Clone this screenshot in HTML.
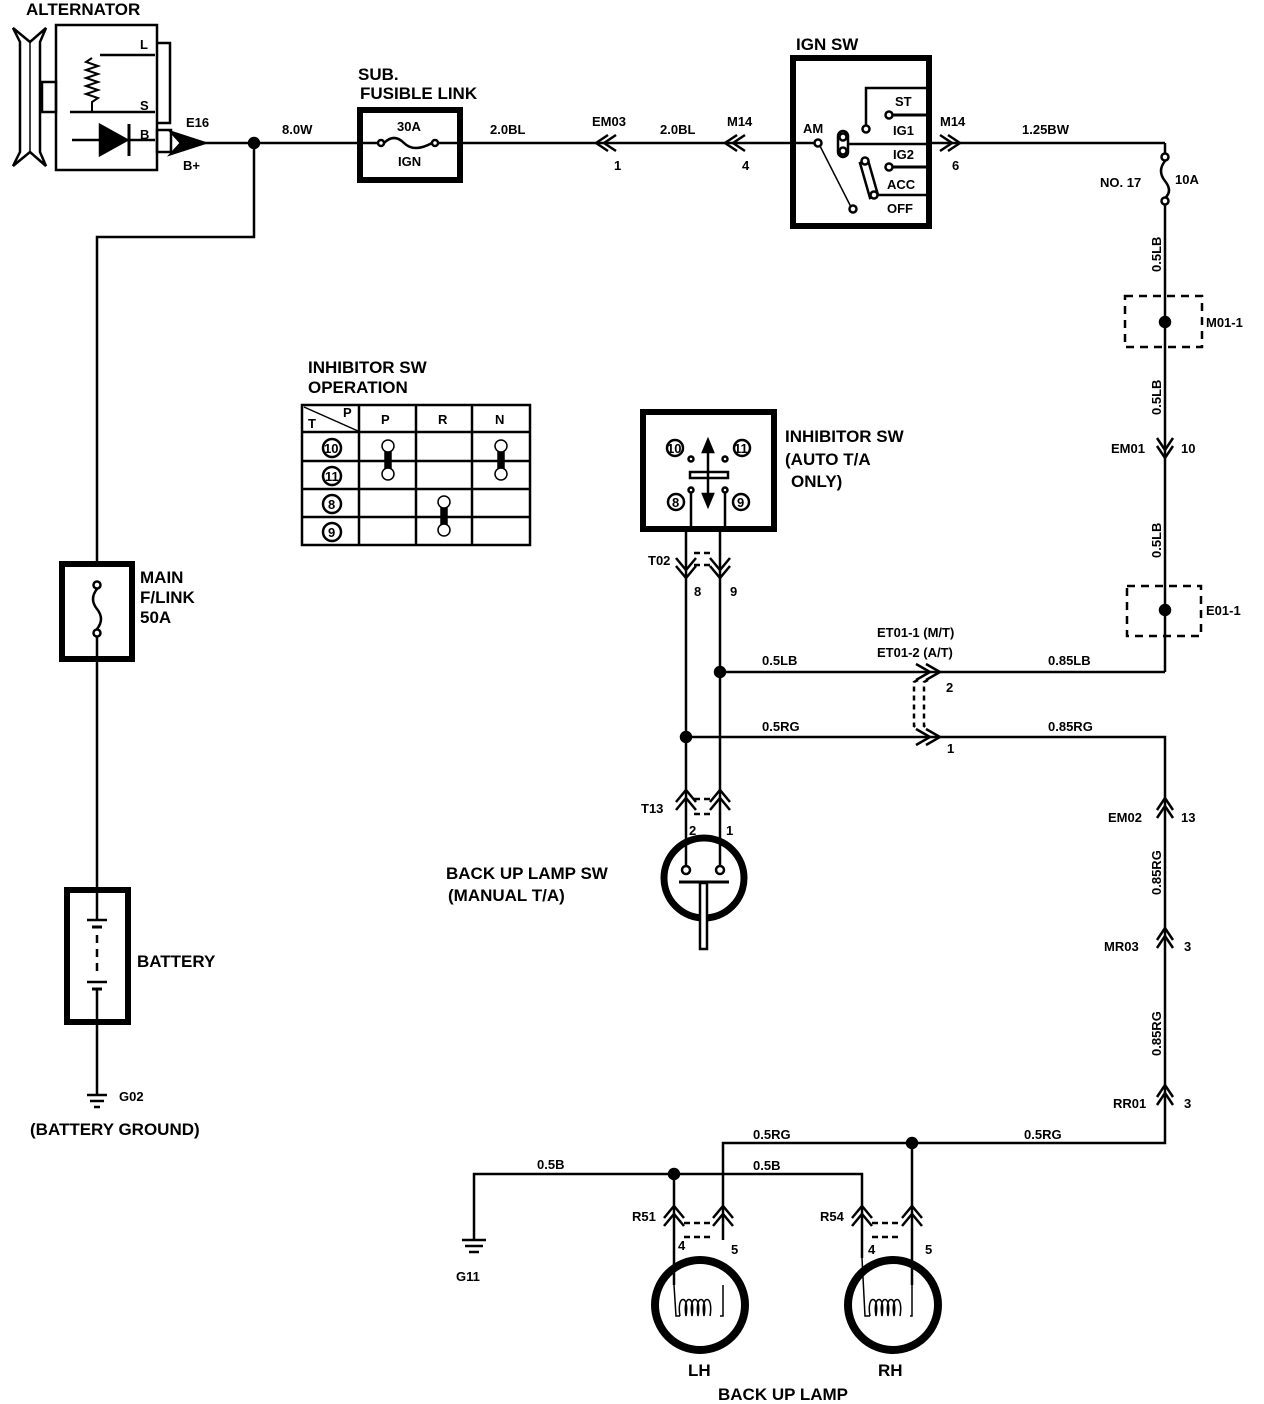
<!DOCTYPE html>
<html><head><meta charset="utf-8"><style>
html,body{margin:0;padding:0;background:#fff;}
svg{display:block;}
text{font-family:"Liberation Sans",Arial,sans-serif;font-weight:bold;fill:#000;}
.t{font-size:13px;}
.b{font-size:17px;}
</style></head><body>
<svg width="1264" height="1404" viewBox="0 0 1264 1404" xmlns="http://www.w3.org/2000/svg">
<g stroke="#000" fill="none" stroke-width="2.5">
<!-- Alternator -->
<polygon points="13,28 30,42 46,28 40,42 40,152 46,166 30,152 13,166 20,152 20,42" fill="#fff"/>
<line x1="30" y1="42" x2="30" y2="152" stroke-width="1.5"/>
<rect x="42" y="82" width="14" height="30"/>
<rect x="56" y="25" width="101" height="145"/>
<polyline points="157,43 170,43 170,123 157,123"/>
<polyline points="100,55 155,55"/>
<polyline points="70,112 155,112"/>
<path d="M92,58 l-6,4 l12,4 l-12,4 l12,4 l-12,4 l12,4 l-12,4 l12,4 l-12,4 l12,4 l-6,4 L92,112" stroke-width="2"/>
<line x1="72" y1="140" x2="155" y2="140"/>
<polygon points="100,125 100,155 127,140" fill="#000"/>
<line x1="129" y1="124" x2="129" y2="156" stroke-width="3"/>
<rect x="157" y="130" width="14" height="22"/>
<polygon points="171,132 205,143 171,154 181,143" fill="#000"/>
<!-- main wire -->
<line x1="200" y1="143" x2="360" y2="143"/>
<circle cx="254" cy="143" r="5" fill="#000"/>
<polyline points="254,143 254,237 97,237 97,562"/>
<!-- sub fusible link -->
<rect x="360" y="110" width="100" height="70" stroke-width="6"/>
<line x1="363" y1="143" x2="378" y2="143"/>
<circle cx="381" cy="143" r="3" fill="#fff"/>
<circle cx="435" cy="143" r="3" fill="#fff"/>
<path d="M384,143 q10,-10 20,0 q10,10 28,0"/>
<line x1="438" y1="143" x2="458" y2="143"/>
<line x1="460" y1="143" x2="793" y2="143"/>
<polyline points="608,135 596,143 608,151"/><polyline points="616,135 604,143 616,151"/>
<polyline points="737,135 725,143 737,151"/><polyline points="745,135 733,143 745,151"/>
<!-- IGN SW -->
<rect x="793" y="58" width="136" height="168" stroke-width="6"/>
<line x1="796" y1="143" x2="815" y2="143" />
<circle cx="818" cy="143" r="3.5" fill="#fff"/>
<line x1="820" y1="146" x2="851" y2="207" stroke-width="1.5"/>
<circle cx="853" cy="209" r="3.5" fill="#fff"/>
<rect x="838" y="131" width="10" height="26" rx="5" fill="#fff"/>
<circle cx="843" cy="137" r="3.5"/><circle cx="843" cy="151" r="3.5"/>
<line x1="848" y1="144" x2="929" y2="144"/>
<polyline points="866,126 866,88 927,88"/>
<circle cx="866" cy="129" r="3.5" fill="#fff"/>
<circle cx="889" cy="115" r="3.5" fill="#fff"/>
<line x1="893" y1="115" x2="927" y2="115" stroke-width="3"/>
<circle cx="889" cy="167" r="3.5" fill="#fff"/>
<line x1="893" y1="167" x2="927" y2="167" stroke-width="3"/>
<polygon points="860,163 868,160 878,195 870,198" fill="#fff"/>
<circle cx="865" cy="161" r="3.5" fill="#fff"/>
<circle cx="874" cy="195" r="3.5" fill="#fff"/>
<line x1="878" y1="195" x2="927" y2="195"/>
<line x1="929" y1="143" x2="1165" y2="143"/>
<polyline points="940,135 952,143 940,151"/><polyline points="948,135 960,143 948,151"/>
<!-- right vertical -->
<polyline points="1165,143 1165,153"/>
<circle cx="1165" cy="157" r="3.5" fill="#fff"/>
<path d="M1165,161 q-8,10 0,20 q8,10 0,17"/>
<circle cx="1165" cy="201" r="3.5" fill="#fff"/>
<line x1="1165" y1="205" x2="1165" y2="672"/>
<rect x="1125" y="296" width="77" height="51" stroke-dasharray="8,6"/>
<circle cx="1165" cy="322" r="5" fill="#000"/>
<polyline points="1157,438 1165,450 1173,438"/><polyline points="1157,446 1165,458 1173,446"/>
<rect x="1127" y="586" width="74" height="50" stroke-dasharray="8,6"/>
<circle cx="1165" cy="610" r="5" fill="#000"/>
<polyline points="1165,672 720,672"/>
<circle cx="720" cy="672" r="5" fill="#000"/>
<polyline points="916,664 930,672 916,680"/><polyline points="926,664 940,672 926,680"/>
<polyline points="916,729 930,737 916,745"/><polyline points="926,729 940,737 926,745"/>
<polyline points="918,680 914,682 914,726 918,728" stroke-dasharray="5,4"/>
<polyline points="928,680 924,682 924,726 928,728" stroke-dasharray="5,4"/>
<polyline points="686,737 1165,737 1165,1143 723,1143 723,1240"/>
<circle cx="686" cy="737" r="5" fill="#000"/>
<circle cx="912" cy="1143" r="5" fill="#000"/>
<polyline points="1157,810 1165,798 1173,810"/><polyline points="1157,818 1165,806 1173,818"/>
<polyline points="1157,940 1165,928 1173,940"/><polyline points="1157,948 1165,936 1173,948"/>
<polyline points="1157,1097 1165,1085 1173,1097"/><polyline points="1157,1105 1165,1093 1173,1105"/>
<!-- inhibitor sw -->
<rect x="643" y="412" width="131" height="117" stroke-width="6"/>
<circle cx="675" cy="448" r="8"/><circle cx="742" cy="448" r="8"/>
<circle cx="676" cy="502" r="8"/><circle cx="741" cy="502" r="8"/>
<circle cx="691" cy="459" r="2.5"/><circle cx="725" cy="459" r="2.5"/>
<circle cx="691" cy="490" r="2.5"/><circle cx="725" cy="490" r="2.5"/>
<rect x="690" y="472" width="38" height="6"/>
<line x1="708" y1="448" x2="708" y2="500"/>
<polygon points="703,452 708,440 713,452" fill="#000"/>
<polygon points="703,494 708,506 713,494" fill="#000"/>
<line x1="691" y1="493" x2="691" y2="531"/><line x1="725" y1="493" x2="725" y2="531"/>
<line x1="686" y1="531" x2="686" y2="845"/>
<line x1="720" y1="531" x2="720" y2="845"/>
<polyline points="676,558 686,570 696,558"/><polyline points="676,566 686,578 696,566"/>
<polyline points="710,558 720,570 730,558"/><polyline points="710,566 720,578 730,566"/>
<line x1="694" y1="553" x2="712" y2="553" stroke-dasharray="6,4"/>
<line x1="694" y1="565" x2="712" y2="565" stroke-dasharray="6,4"/>
<!-- T13 -->
<polyline points="676,802 686,790 696,802"/><polyline points="676,810 686,798 696,810"/>
<polyline points="710,802 720,790 730,802"/><polyline points="710,810 720,798 730,810"/>
<line x1="694" y1="799" x2="712" y2="799" stroke-dasharray="6,4"/>
<line x1="694" y1="814" x2="712" y2="814" stroke-dasharray="6,4"/>
<!-- back up lamp sw -->
<circle cx="704" cy="878" r="40" stroke-width="7"/>
<line x1="686" y1="845" x2="686" y2="867"/><line x1="720" y1="845" x2="720" y2="867"/>
<circle cx="686" cy="870" r="4" fill="#fff"/><circle cx="720" cy="870" r="4" fill="#fff"/>
<line x1="679" y1="882" x2="729" y2="882" stroke-width="3"/>
<rect x="700" y="883" width="7" height="66" fill="#fff"/>
<!-- main f/link -->
<rect x="62" y="564" width="70" height="95" stroke-width="6"/>
<circle cx="97" cy="585" r="3.5" fill="#fff"/>
<path d="M97,589 q-8,10 0,20 q8,10 0,20"/>
<circle cx="97" cy="633" r="3.5" fill="#fff"/>
<line x1="97" y1="637" x2="97" y2="888"/>
<rect x="67" y="890" width="61" height="132" stroke-width="6"/>
<line x1="97" y1="893" x2="97" y2="920"/>
<line x1="87" y1="920" x2="107" y2="920"/><line x1="92" y1="927" x2="102" y2="927" stroke-width="3"/>
<line x1="97" y1="935" x2="97" y2="975" stroke-dasharray="8,6"/>
<line x1="87" y1="982" x2="107" y2="982"/><line x1="92" y1="989" x2="102" y2="989" stroke-width="3"/>
<line x1="97" y1="989" x2="97" y2="1095"/>
<line x1="87" y1="1095" x2="107" y2="1095"/><line x1="90" y1="1101" x2="104" y2="1101"/><line x1="94" y1="1107" x2="100" y2="1107"/>
<!-- bottom -->
<polyline points="474,1240 474,1174 862,1174 862,1258"/>
<circle cx="674" cy="1174" r="5" fill="#000"/>
<line x1="674" y1="1174" x2="674" y2="1285"/>
<line x1="912" y1="1143" x2="912" y2="1285"/>
<line x1="462" y1="1240" x2="486" y2="1240"/><line x1="465" y1="1246" x2="483" y2="1246"/><line x1="469" y1="1252" x2="479" y2="1252"/>
<g>
<polyline points="664,1218 674,1206 684,1218"/><polyline points="664,1226 674,1214 684,1226"/>
<polyline points="713,1218 723,1206 733,1218"/><polyline points="713,1226 723,1214 733,1226"/>
<line x1="684" y1="1223" x2="713" y2="1223" stroke-dasharray="6,4"/>
<line x1="684" y1="1237" x2="713" y2="1237" stroke-dasharray="6,4"/>
<polyline points="852,1218 862,1206 872,1218"/><polyline points="852,1226 862,1214 872,1226"/>
<polyline points="902,1218 912,1206 922,1218"/><polyline points="902,1226 912,1214 922,1226"/>
<line x1="872" y1="1223" x2="902" y2="1223" stroke-dasharray="6,4"/>
<line x1="872" y1="1237" x2="902" y2="1237" stroke-dasharray="6,4"/>
</g>
<circle cx="700" cy="1305" r="45" stroke-width="8"/>
<circle cx="893" cy="1305" r="45" stroke-width="8"/>
<g stroke-width="1.5">
<polyline points="674,1285 676,1316 680,1316"/><polyline points="723,1285 723,1316 720,1316"/>
<path d="M680,1316 c-4,-22 10,-22 6,0 c-4,-22 10,-22 6,0 c-4,-22 10,-22 6,0 c-4,-22 10,-22 6,0 c-4,-22 10,-22 6,0"/>
<polyline points="862,1258 865,1316 870,1316"/><polyline points="912,1285 912,1316 910,1316"/>
<path d="M870,1316 c-4,-22 10,-22 6,0 c-4,-22 10,-22 6,0 c-4,-22 10,-22 6,0 c-4,-22 10,-22 6,0 c-4,-22 10,-22 6,0"/>
</g>
<!-- table -->
<rect x="302" y="405" width="228" height="140"/>
<line x1="359" y1="405" x2="359" y2="545"/><line x1="416" y1="405" x2="416" y2="545"/><line x1="472" y1="405" x2="472" y2="545"/>
<line x1="302" y1="432" x2="530" y2="432"/><line x1="302" y1="461" x2="530" y2="461"/><line x1="302" y1="489" x2="530" y2="489"/><line x1="302" y1="517" x2="530" y2="517"/>
<line x1="304" y1="407" x2="358" y2="431" stroke-width="1.5"/>
<circle cx="332" cy="448" r="9"/><circle cx="332" cy="476" r="9"/><circle cx="332" cy="504" r="9"/><circle cx="332" cy="532" r="9"/>
<g stroke-width="1.5" fill="#fff">
<rect x="385" y="450" width="6" height="20" fill="#000"/>
<circle cx="388" cy="446" r="6"/><circle cx="388" cy="474" r="6"/>
<rect x="498" y="450" width="6" height="20" fill="#000"/>
<circle cx="501" cy="446" r="6"/><circle cx="501" cy="474" r="6"/>
<rect x="441" y="506" width="6" height="20" fill="#000"/>
<circle cx="444" cy="502" r="6"/><circle cx="444" cy="530" r="6"/>
</g>
</g>
<!-- labels -->
<text x="26" y="15" class="b">ALTERNATOR</text>
<text x="140" y="49" class="t" font-size="12">L</text>
<text x="140" y="110" class="t" font-size="12">S</text>
<text x="140" y="139" class="t" font-size="12">B</text>
<text x="186" y="127" class="t">E16</text>
<text x="183" y="170" class="t">B+</text>
<text x="282" y="134" class="t">8.0W</text>
<text x="358" y="80" class="b">SUB.</text>
<text x="360" y="99" class="b">FUSIBLE LINK</text>
<text x="397" y="131" class="t" font-size="12">30A</text>
<text x="398" y="166" class="t" font-size="12">IGN</text>
<text x="490" y="134" class="t">2.0BL</text>
<text x="592" y="126" class="t">EM03</text>
<text x="614" y="170" class="t">1</text>
<text x="660" y="134" class="t">2.0BL</text>
<text x="727" y="126" class="t">M14</text>
<text x="742" y="170" class="t">4</text>
<text x="796" y="50" class="b">IGN SW</text>
<text x="803" y="133" class="t">AM</text>
<text x="895" y="106" class="t">ST</text>
<text x="893" y="135" class="t">IG1</text>
<text x="893" y="159" class="t">IG2</text>
<text x="887" y="189" class="t">ACC</text>
<text x="887" y="213" class="t">OFF</text>
<text x="940" y="126" class="t">M14</text>
<text x="952" y="170" class="t">6</text>
<text x="1022" y="134" class="t">1.25BW</text>
<text x="1100" y="187" class="t">NO. 17</text>
<text x="1175" y="184" class="t">10A</text>
<text x="0" y="0" class="t" transform="translate(1161,272) rotate(-90)">0.5LB</text>
<text x="1206" y="327" class="t">M01-1</text>
<text x="0" y="0" class="t" transform="translate(1161,415) rotate(-90)">0.5LB</text>
<text x="1111" y="453" class="t">EM01</text>
<text x="1181" y="453" class="t">10</text>
<text x="0" y="0" class="t" transform="translate(1161,558) rotate(-90)">0.5LB</text>
<text x="1206" y="615" class="t">E01-1</text>
<text x="877" y="637" class="t">ET01-1 (M/T)</text>
<text x="877" y="657" class="t">ET01-2 (A/T)</text>
<text x="1048" y="665" class="t">0.85LB</text>
<text x="946" y="692" class="t">2</text>
<text x="762" y="665" class="t">0.5LB</text>
<text x="762" y="731" class="t">0.5RG</text>
<text x="1048" y="731" class="t">0.85RG</text>
<text x="947" y="753" class="t">1</text>
<text x="1108" y="822" class="t">EM02</text>
<text x="1181" y="822" class="t">13</text>
<text x="0" y="0" class="t" transform="translate(1161,895) rotate(-90)">0.85RG</text>
<text x="1104" y="951" class="t">MR03</text>
<text x="1184" y="951" class="t">3</text>
<text x="0" y="0" class="t" transform="translate(1161,1056) rotate(-90)">0.85RG</text>
<text x="1113" y="1108" class="t">RR01</text>
<text x="1184" y="1108" class="t">3</text>
<text x="1024" y="1139" class="t">0.5RG</text>
<text x="753" y="1139" class="t">0.5RG</text>
<text x="753" y="1170" class="t">0.5B</text>
<text x="537" y="1169" class="t">0.5B</text>
<text x="456" y="1281" class="t">G11</text>
<text x="632" y="1221" class="t">R51</text>
<text x="678" y="1250" class="t">4</text>
<text x="731" y="1254" class="t">5</text>
<text x="820" y="1221" class="t">R54</text>
<text x="868" y="1254" class="t">4</text>
<text x="925" y="1254" class="t">5</text>
<text x="688" y="1376" class="b">LH</text>
<text x="878" y="1376" class="b">RH</text>
<text x="718" y="1400" class="b">BACK UP LAMP</text>
<text x="308" y="373" class="b">INHIBITOR SW</text>
<text x="308" y="393" class="b">OPERATION</text>
<text x="308" y="428" class="t" font-size="11">T</text>
<text x="343" y="417" class="t" font-size="11">P</text>
<text x="381" y="424" class="t" font-size="11">P</text>
<text x="438" y="424" class="t" font-size="11">R</text>
<text x="495" y="424" class="t" font-size="11">N</text>
<text x="324" y="453" class="t" font-size="12">10</text>
<text x="325" y="481" class="t" font-size="12">11</text>
<text x="328" y="509" class="t" font-size="12">8</text>
<text x="328" y="537" class="t" font-size="12">9</text>
<text x="785" y="442" class="b">INHIBITOR SW</text>
<text x="785" y="465" class="b">(AUTO T/A</text>
<text x="791" y="487" class="b">ONLY)</text>
<text x="667" y="453" class="t" font-size="12">10</text>
<text x="734" y="453" class="t" font-size="12">11</text>
<text x="672" y="507" class="t" font-size="12">8</text>
<text x="737" y="507" class="t" font-size="12">9</text>
<text x="648" y="565" class="t">T02</text>
<text x="694" y="596" class="t">8</text>
<text x="730" y="596" class="t">9</text>
<text x="641" y="813" class="t">T13</text>
<text x="689" y="835" class="t">2</text>
<text x="726" y="835" class="t">1</text>
<text x="446" y="879" class="b">BACK UP LAMP SW</text>
<text x="448" y="901" class="b">(MANUAL T/A)</text>
<text x="140" y="583" class="b">MAIN</text>
<text x="140" y="603" class="b">F/LINK</text>
<text x="140" y="623" class="b">50A</text>
<text x="137" y="967" class="b">BATTERY</text>
<text x="119" y="1101" class="t">G02</text>
<text x="30" y="1135" class="b">(BATTERY GROUND)</text>
</svg>
</body></html>
